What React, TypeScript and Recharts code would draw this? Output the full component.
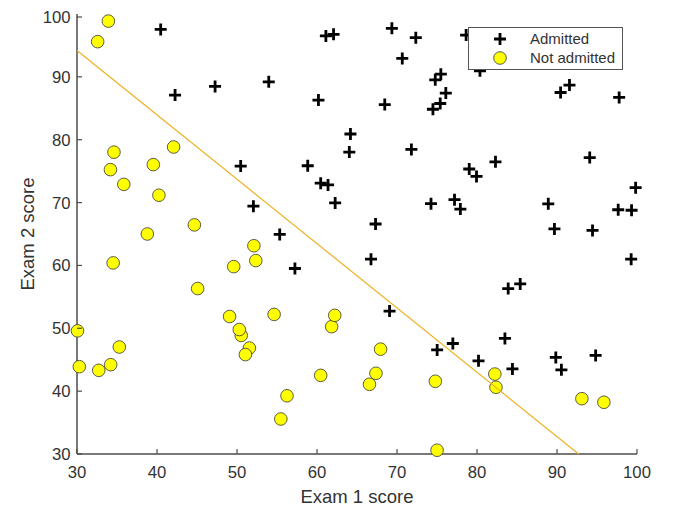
import { Legend, Scatter, ScatterChart, XAxis, YAxis } from "recharts";

// exam scores, admitted students
const admittedExam1 = [
  60.18, 79.03, 61.11, 75.02, 76.1, 84.43, 82.31, 69.36, 53.97, 69.07,
  70.66, 76.98, 89.68, 77.92, 62.27, 80.19, 61.38, 85.4, 52.05, 64.18,
  83.9, 94.44, 77.19, 97.77, 62.07, 91.56, 79.94, 99.27, 90.55, 97.65,
  74.25, 71.8, 75.4, 40.46, 80.28, 66.75, 64.04, 72.35, 60.46, 58.84,
  99.83, 47.26, 50.46, 88.91, 94.83, 67.32, 57.24, 80.37, 68.47, 75.48,
  78.64, 94.09, 90.45, 74.49, 89.85, 83.49, 42.26, 99.32, 55.34, 74.78,
];
const admittedExam2 = [
  86.31, 75.34, 96.51, 46.55, 87.42, 43.53, 76.48, 97.72, 89.21, 52.74,
  92.93, 47.58, 65.8, 68.97, 69.95, 44.82, 72.81, 57.05, 69.43, 80.91,
  56.31, 65.57, 70.46, 86.73, 96.77, 88.7, 74.16, 61.0, 43.39, 68.86,
  69.82, 78.45, 85.76, 97.54, 92.12, 60.99, 78.03, 96.23, 73.09, 75.86,
  72.37, 88.48, 75.81, 69.8, 45.69, 66.59, 59.51, 90.96, 85.59, 90.42,
  96.65, 77.16, 87.51, 84.85, 45.36, 48.38, 87.1, 68.78, 64.93, 89.53,
];

// exam scores, not admitted
const rejectedExam1 = [
  34.62, 30.29, 35.85, 45.08, 95.86, 75.01, 39.54, 67.95, 67.37, 50.53,
  34.21, 93.11, 61.83, 38.79, 52.11, 40.24, 54.64, 33.92, 74.79, 34.18,
  51.55, 82.37, 51.05, 62.22, 34.52, 50.29, 49.59, 32.58, 35.29, 56.25,
  30.06, 44.67, 66.56, 49.07, 32.72, 60.46, 82.23, 42.08, 52.35, 55.48,
];
const rejectedExam2 = [
  78.02, 43.89, 72.9, 56.32, 38.23, 30.6, 76.04, 46.68, 42.84, 48.86,
  44.21, 38.8, 50.26, 65.0, 63.13, 71.17, 52.21, 98.87, 41.57, 75.24,
  46.86, 40.62, 45.82, 52.06, 60.4, 49.8, 59.81, 95.6, 47.02, 39.26,
  49.59, 66.45, 41.09, 51.88, 43.31, 42.51, 42.72, 78.84, 60.77, 35.57,
];

// decision boundary end points
const boundaryX = [30, 92.7];
const boundaryY = [94.18, 30];

const axisTicks = [30, 40, 50, 60, 70, 80, 90, 100];

const admitted = admittedExam1.map((x, i) => ({ x, y: admittedExam2[i] }));
const rejected = rejectedExam1.map((x, i) => ({ x, y: rejectedExam2[i] }));
const boundary = boundaryX.map((x, i) => ({ x, y: boundaryY[i] }));

const FONT = "Arial, 'Liberation Sans', Helvetica, sans-serif";
const TEXT = "#333333";
const AXIS = "#4d4d4d";

const Plus = ({ cx, cy }: any) => (
  <path
    d={`M${cx - 6},${cy}H${cx + 6}M${cx},${cy - 6}V${cy + 6}`}
    stroke="#000"
    strokeWidth={2.8}
    fill="none"
  />
);

const Dot = ({ cx, cy }: any) => (
  <circle cx={cx} cy={cy} r={6.3} fill="#ffff00" stroke="#333" strokeWidth={0.8} />
);

const XTick = ({ x, y, payload }: any) => (
  <g>
    <line x1={x} y1={y} x2={x} y2={y - 5} stroke={AXIS} strokeWidth={1.2} />
    <text x={x} y={y + 24} textAnchor="middle" fontSize={16.7} fontFamily={FONT} fill={TEXT}>
      {payload.value}
    </text>
  </g>
);

const YTick = ({ x, y, payload }: any) => (
  <g>
    <line x1={x} y1={y} x2={x + 5} y2={y} stroke={AXIS} strokeWidth={1.2} />
    <text x={x - 6.5} y={y} dy="0.36em" textAnchor="end" fontSize={16.7} fontFamily={FONT} fill={TEXT}>
      {payload.value}
    </text>
  </g>
);

const LegendBox = () => (
  <svg width={155} height={43} style={{ display: "block" }}>
    <rect x={0.5} y={0.5} width={154} height={42} fill="#fff" stroke="#555" strokeWidth={1} />
    <Plus cx={32} cy={12} />
    <Dot cx={32} cy={31} />
    <text x={62} y={12} dy="0.36em" fontSize={15} fontFamily={FONT} fill={TEXT}>
      Admitted
    </text>
    <text x={62} y={31} dy="0.36em" fontSize={15} fontFamily={FONT} fill={TEXT}>
      Not admitted
    </text>
  </svg>
);

export default function App() {
  return (
    <div style={{ width: 670, height: 504 }}>
      <ScatterChart width={670} height={504} margin={{ top: 6, right: 41, left: 19, bottom: 8 }}>
        <XAxis
          type="number"
          dataKey="x"
          domain={[30, 100]}
          ticks={axisTicks}
          height={50}
          tickSize={0}
          tickMargin={0}
          tickLine={false}
          tick={<XTick />}
          axisLine={{ stroke: AXIS, strokeWidth: 1.5 }}
          label={{
            content: ({ viewBox }: any) => (
              <text
                x={viewBox.x + viewBox.width / 2}
                y={viewBox.y + 49}
                textAnchor="middle"
                fontSize={18.5}
                fontFamily={FONT}
                fill={TEXT}
              >
                Exam 1 score
              </text>
            ),
          }}
        />
        <YAxis
          type="number"
          dataKey="y"
          domain={[30, 100]}
          ticks={axisTicks}
          width={50}
          tickSize={0}
          tickMargin={0}
          tickLine={false}
          tick={<YTick />}
          axisLine={{ stroke: AXIS, strokeWidth: 1.5 }}
          label={{
            content: ({ viewBox }: any) => {
              const cx = viewBox.x + 7;
              const cy = viewBox.y + viewBox.height / 2;
              return (
                <text
                  x={cx}
                  y={cy}
                  transform={`rotate(-90, ${cx}, ${cy})`}
                  textAnchor="middle"
                  fontSize={18.5}
                  fontFamily={FONT}
                  fill={TEXT}
                >
                  Exam 2 score
                </text>
              );
            },
          }}
        />
        <Scatter name="Admitted" data={admitted} shape={<Plus />} isAnimationActive={false} />
        <Scatter name="Not admitted" data={rejected} shape={<Dot />} isAnimationActive={false} />
        <Scatter
          data={boundary}
          line={{ stroke: "#EDB120", strokeWidth: 1.2 }}
          shape={() => <g />}
          legendType="none"
          isAnimationActive={false}
        />
        <Legend
          layout="vertical"
          align="center"
          verticalAlign="middle"
          content={<LegendBox />}
          wrapperStyle={{ left: 460, top: 19, width: 155, height: 43 }}
        />
      </ScatterChart>
    </div>
  );
}
